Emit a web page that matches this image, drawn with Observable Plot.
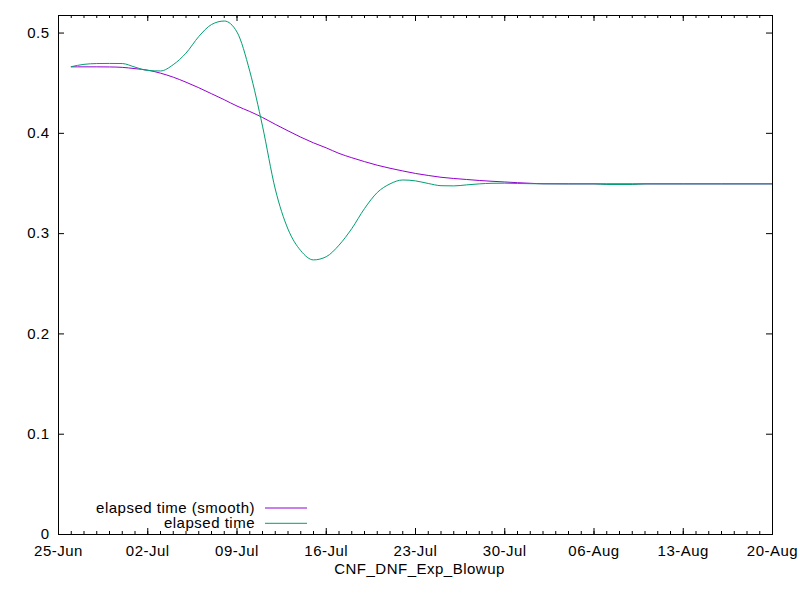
<!DOCTYPE html>
<html>
<head>
<meta charset="utf-8">
<script src="https://cdn.jsdelivr.net/npm/d3@7"></script>
<script src="https://cdn.jsdelivr.net/npm/@observablehq/plot@0.6"></script>
<style>
  body { margin: 0; background: #fff; }
  #chart svg { font-family: "Liberation Sans", Arial, sans-serif; }
</style>
</head>
<body>
<div id="chart"></div>
<script>
// ---- data ----
const dates = [
  "2023-06-26","2023-06-27","2023-06-28","2023-06-29","2023-06-30","2023-07-01","2023-07-02",
  "2023-07-03","2023-07-04","2023-07-05","2023-07-06","2023-07-07","2023-07-08","2023-07-09",
  "2023-07-10","2023-07-11","2023-07-12","2023-07-13","2023-07-14","2023-07-15","2023-07-16",
  "2023-07-17","2023-07-18","2023-07-19","2023-07-20","2023-07-21","2023-07-22","2023-07-23",
  "2023-07-24","2023-07-25","2023-07-26","2023-07-27","2023-07-28","2023-07-29","2023-07-30",
  "2023-07-31","2023-08-01","2023-08-02","2023-08-04","2023-08-06","2023-08-07","2023-08-09",
  "2023-08-10","2023-08-13","2023-08-16","2023-08-20"
];
const smoothValues = [
  0.4663,0.4663,0.4663,0.4662,0.4658,0.4645,0.4630,
  0.4600,0.4560,0.4510,0.4455,0.4395,0.4335,0.4272,
  0.4218,0.4158,0.4090,0.4025,0.3962,0.3905,0.3855,
  0.3800,0.3757,0.3718,0.3682,0.3652,0.3625,0.3600,
  0.3580,0.3562,0.3550,0.3540,0.3530,0.3522,0.3515,
  0.3508,0.3502,0.3497,0.3496,0.3496,0.3496,0.3496,
  0.3496,0.3496,0.3496,0.3496
];
const elapsedValues = [
  0.4665,0.4688,0.4696,0.4697,0.4696,0.4660,0.4627,
  0.4622,0.4685,0.4800,0.4965,0.5085,0.5120,0.5010,
  0.4620,0.4072,0.3445,0.3045,0.2830,0.2738,0.2770,
  0.2885,0.3050,0.3250,0.3410,0.3496,0.3535,0.3526,
  0.3500,0.3478,0.3476,0.3486,0.3496,0.3502,0.3503,
  0.3500,0.3498,0.3497,0.3496,0.3496,0.3490,0.3490,
  0.3496,0.3496,0.3496,0.3496
];
const seriesLabels = ["elapsed time (smooth)", "elapsed time"];
const seriesColors = ["#9400d3", "#009e73"];
const xTickDates = ["2023-06-25","2023-07-02","2023-07-09","2023-07-16","2023-07-23",
                    "2023-07-30","2023-08-06","2023-08-13","2023-08-20"];
const yTicks = [0, 0.1, 0.2, 0.3, 0.4, 0.5];
const yTickLabels = ["0", "0.1", "0.2", "0.3", "0.4", "0.5"];
const xLabel = "CNF_DNF_Exp_Blowup";
const xDomain = ["2023-06-25", "2023-08-20"];
const yDomain = [0, 0.5175];

// ---- build ----
const parse = d3.utcParse("%Y-%m-%d");
const smoothData = dates.map((d, i) => ({date: parse(d), value: smoothValues[i]}));
const elapsedData = dates.map((d, i) => ({date: parse(d), value: elapsedValues[i]}));
const majorTicks = xTickDates.map(parse);
const minorTicks = d3.utcDay.range(parse(xDomain[0]), d3.utcDay.offset(parse(xDomain[1]), 1));

const W = 800, H = 600, mL = 58, mR = 28, mT = 15, mB = 66;
const innerW = W - mL - mR, innerH = H - mT - mB;

const chart = Plot.plot({
  width: W, height: H,
  marginLeft: mL, marginRight: mR, marginTop: mT, marginBottom: mB,
  style: {fontFamily: "'Liberation Sans', Arial, sans-serif", fontSize: "15px", color: "#000",
          background: "#fff", letterSpacing: "0.5px", overflow: "visible"},
  x: {type: "utc", domain: xDomain.map(parse)},
  y: {domain: yDomain},
  marks: [
    Plot.ruleX(minorTicks, {insetTop: innerH - 3, stroke: "#000"}),
    Plot.ruleX(minorTicks, {insetBottom: innerH - 3, stroke: "#000"}),
    Plot.ruleX(majorTicks, {insetTop: innerH - 6, stroke: "#000"}),
    Plot.ruleX(majorTicks, {insetBottom: innerH - 6, stroke: "#000"}),
    Plot.ruleY(yTicks, {insetRight: innerW - 6, stroke: "#000"}),
    Plot.ruleY(yTicks, {insetLeft: innerW - 6, stroke: "#000"}),
    Plot.axisX({ticks: majorTicks, tickFormat: d3.utcFormat("%d-%b"), tickSize: 0, tickPadding: 11, label: null}),
    Plot.axisY({ticks: yTicks, tickFormat: (d, i) => yTickLabels[yTicks.indexOf(d)], tickSize: 0, tickPadding: 9, label: null}),
    Plot.lineY(smoothData, {x: "date", y: "value", stroke: seriesColors[0], strokeWidth: 1, curve: "monotone-x"}),
    Plot.lineY(elapsedData, {x: "date", y: "value", stroke: seriesColors[1], strokeWidth: 1, curve: "monotone-x"}),
    Plot.frame({stroke: "#000", strokeWidth: 1}),
    Plot.text([xLabel], {frameAnchor: "bottom", dy: 39, dx: 4, fill: "#000"})
  ]
});

// legend inside the plot, bottom-left
const svg = d3.select(chart);
const leg = svg.append("g");
seriesLabels.forEach((label, i) => {
  const y = 508 + i * 15.3;
  leg.append("text").attr("x", 255).attr("y", y).attr("dy", "0.32em")
    .attr("text-anchor", "end").attr("fill", "#000").text(label);
  leg.append("line").attr("x1", 265).attr("x2", 307).attr("y1", y).attr("y2", y)
    .attr("stroke", seriesColors[i]).attr("stroke-width", 1);
});

document.getElementById("chart").appendChild(chart);
</script>
</body>
</html>
